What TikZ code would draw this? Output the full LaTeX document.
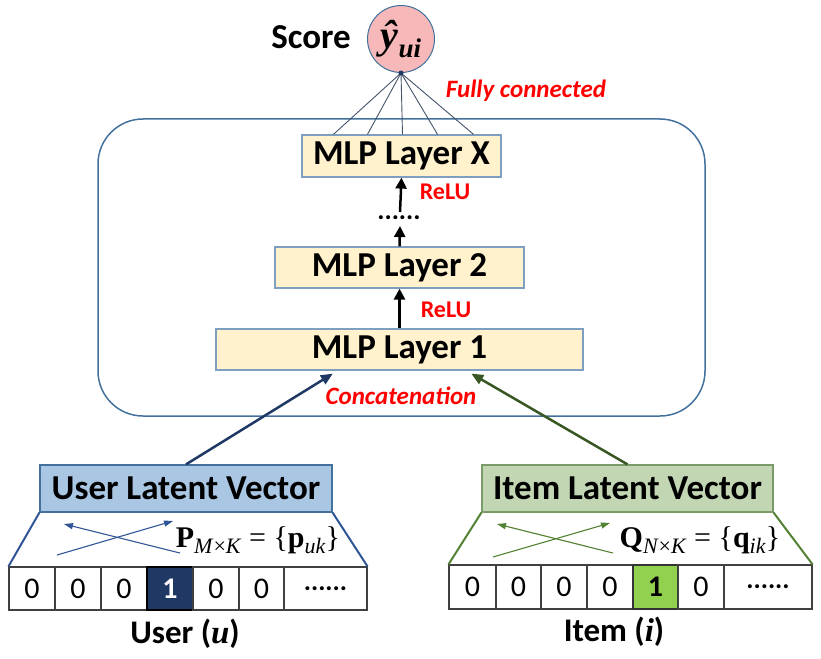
\documentclass[tikz,border=0pt]{standalone}
\usepackage{fontspec}
\setmainfont{Carlito}
\newfontfamily\tnr{Liberation Serif}
\usetikzlibrary{arrows.meta,calc}
\definecolor{frameblue}{HTML}{41719C}
\definecolor{mlpfill}{HTML}{FFF2CC}
\definecolor{mlpdraw}{HTML}{7F9FC0}
\definecolor{scorefill}{HTML}{F6B8B8}
\definecolor{fanline}{HTML}{44546A}
\definecolor{navy}{HTML}{1F3864}
\definecolor{dgreen}{HTML}{385723}
\definecolor{userfill}{HTML}{A9C6E3}
\definecolor{itemfill}{HTML}{C2D6B4}
\definecolor{itemdraw}{HTML}{7A9A68}
\definecolor{ublue}{HTML}{2F5597}
\definecolor{igreen}{HTML}{548235}
\definecolor{onegreen}{HTML}{92D050}
\newcommand{\fsz}[1]{\fontsize{#1}{#1}\selectfont}
\begin{document}
\begin{tikzpicture}[x=1pt,y=-1pt,
  mlp/.style={draw=mlpdraw,fill=mlpfill,line width=1.2pt,inner sep=0pt,font=\bfseries\fsz{35}},
  frame/.style={draw=frameblue,line width=1.5pt,rounded corners=45pt,minimum width=607pt,minimum height=297pt,inner sep=0pt},
  redlab/.style={text=red,font=\bfseries\itshape\fsz{25}},
  relu/.style={text=red,font=\bfseries\fsz{24}},
  uparrow/.style={-{Triangle[length=11pt,width=11pt]},line width=2.5pt,black},
  fan/.style={draw=fanline,line width=0.9pt},
  latent/.style={line width=1.2pt,inner sep=0pt,minimum height=47pt,font=\bfseries\fsz{35}},
  cell/.style={draw=black!75,line width=1.1pt,inner sep=0pt,minimum height=43pt,font=\fsz{30}},
  cross/.style={-{Triangle[length=9pt,width=6pt]},line width=1.1pt},
  bottomlab/.style={font=\bfseries\fsz{33}}
]
\useasboundingbox (0,0) rectangle (821,658);

% frame
\node[frame] (frame) at (401.5,267.5) {};

% score
\node[draw=frameblue,fill=scorefill,circle,line width=1pt,minimum size=67pt,inner sep=0pt] (score) at (401,39)
  {\tnr\bfseries\itshape\fsz{40}ŷ\raisebox{-9pt}{\fsz{27}ui}};
\node[font=\bfseries\fsz{35}] (scorelab) at (311,37) {Score};
\node[redlab] (fc) at (526,91) {Fully connected};

% MLP layers
\node[mlp,minimum width=199pt,minimum height=42pt] (mlpx) at (401.5,156) {MLP Layer X};
\node[mlp,minimum width=249pt,minimum height=41pt] (mlp2) at (399.5,267.5) {MLP Layer 2};
\node[mlp,minimum width=367pt,minimum height=41pt] (mlp1) at (399.5,349.5) {MLP Layer 1};

% fan lines
\foreach \f in {0.16,0.33,0.505,0.68,0.86}{
  \draw[fan] (score.south) -- ($(mlpx.north west)!\f!(mlpx.north east)$);
}
\fill[navy] (score.south) circle (2.5pt);

% dots and arrows
\node[font=\bfseries\fsz{27},anchor=base] (dots) at (399,219) {......};
\coordinate (dotsb) at (400,226);
\coordinate (dotst) at (400,212);
\draw[uparrow] (mlp1.north) -- (mlp2.south);
\draw[uparrow] (mlp2.north) -- (dotsb);
\draw[uparrow] (dotst) -- (mlpx.south);
\node[relu] (relu1) at (446,310) {ReLU};
\node[relu] (relu2) at (445,192) {ReLU};

\node[redlab] (concat) at (401,396) {Concatenation};

% latent boxes
\node[latent,draw=frameblue,fill=userfill,minimum width=292pt] (user) at (186,488.5) {User Latent Vector};
\node[latent,draw=itemdraw,fill=itemfill,minimum width=291pt] (item) at (627.5,488.5) {Item Latent Vector};

\draw[-{Triangle[length=12pt,width=10pt]},line width=2.5pt,navy] (user.north) -- ($(mlp1.south west)!0.319!(mlp1.south east)+(0,3)$);
\draw[-{Triangle[length=12pt,width=10pt]},line width=2.5pt,dgreen] (item.north) -- ($(mlp1.south west)!0.695!(mlp1.south east)+(0,3)$);

% user cells
\node[cell,minimum width=46pt] (u1) at (32,588.5) {0};
\node[cell,minimum width=46pt] (u2) at (78,588.5) {0};
\node[cell,minimum width=46pt] (u3) at (124,588.5) {0};
\node[cell,minimum width=46pt,fill=navy,draw=black,text=white,font=\bfseries\fsz{30}] (u4) at (170,588.5) {1};
\node[cell,minimum width=46pt] (u5) at (216,588.5) {0};
\node[cell,minimum width=45pt] (u6) at (261.5,588.5) {0};
\node[cell,minimum width=83pt,font=\bfseries\fsz{27}] (u7) at (325.5,588.5) {......};

% item cells
\node[cell,minimum width=47pt,minimum height=44pt] (i1) at (472.5,587) {0};
\node[cell,minimum width=45pt,minimum height=44pt] (i2) at (518.5,587) {0};
\node[cell,minimum width=46pt,minimum height=44pt] (i3) at (564,587) {0};
\node[cell,minimum width=46pt,minimum height=44pt] (i4) at (610,587) {0};
\node[cell,minimum width=45pt,minimum height=44pt,fill=onegreen,draw=black!80,font=\bfseries\fsz{30}] (i5) at (655.5,587) {1};
\node[cell,minimum width=46pt,minimum height=44pt] (i6) at (701,587) {0};
\node[cell,minimum width=88pt,minimum height=44pt,font=\bfseries\fsz{27}] (i7) at (768,587) {......};

% trapezoid sides
\draw[ublue,line width=2pt] (user.south west) -- (u1.north west);
\draw[ublue,line width=2pt] (user.south east) -- (u7.north east);
\draw[igreen,line width=2pt] (item.south west) -- (i1.north west);
\draw[igreen,line width=2pt] (item.south east) -- (i7.north east);

% cross arrows
\coordinate (ua1) at (57,555); \coordinate (ua2) at (173,521);
\coordinate (ub1) at (180,553); \coordinate (ub2) at (64,524);
\draw[cross,ublue] (ua1) -- (ua2);
\draw[cross,ublue] (ub1) -- (ub2);
\coordinate (ia1) at (493,557); \coordinate (ia2) at (610,523);
\coordinate (ib1) at (613,553); \coordinate (ib2) at (497,524);
\draw[cross,igreen] (ia1) -- (ia2);
\draw[cross,igreen] (ib1) -- (ib2);

% formulas
\node (pform) at (258,540) {\tnr\fsz{30}\textbf{P}\raisebox{-6pt}{\fsz{22}\textit{M}×\textit{K}} = \{\textbf{p}\raisebox{-6pt}{\fsz{22}\textit{uk}}\}};
\node (qform) at (700,540) {\tnr\fsz{30}\textbf{Q}\raisebox{-6pt}{\fsz{22}\textit{N}×\textit{K}} = \{\textbf{q}\raisebox{-6pt}{\fsz{22}\textit{ik}}\}};

% bottom labels
\node[bottomlab] (ulab) at (185,634) {User ({\tnr\itshape u})};
\node[bottomlab] (ilab) at (614,632) {Item ({\tnr\itshape i})};
\end{tikzpicture}
\end{document}
